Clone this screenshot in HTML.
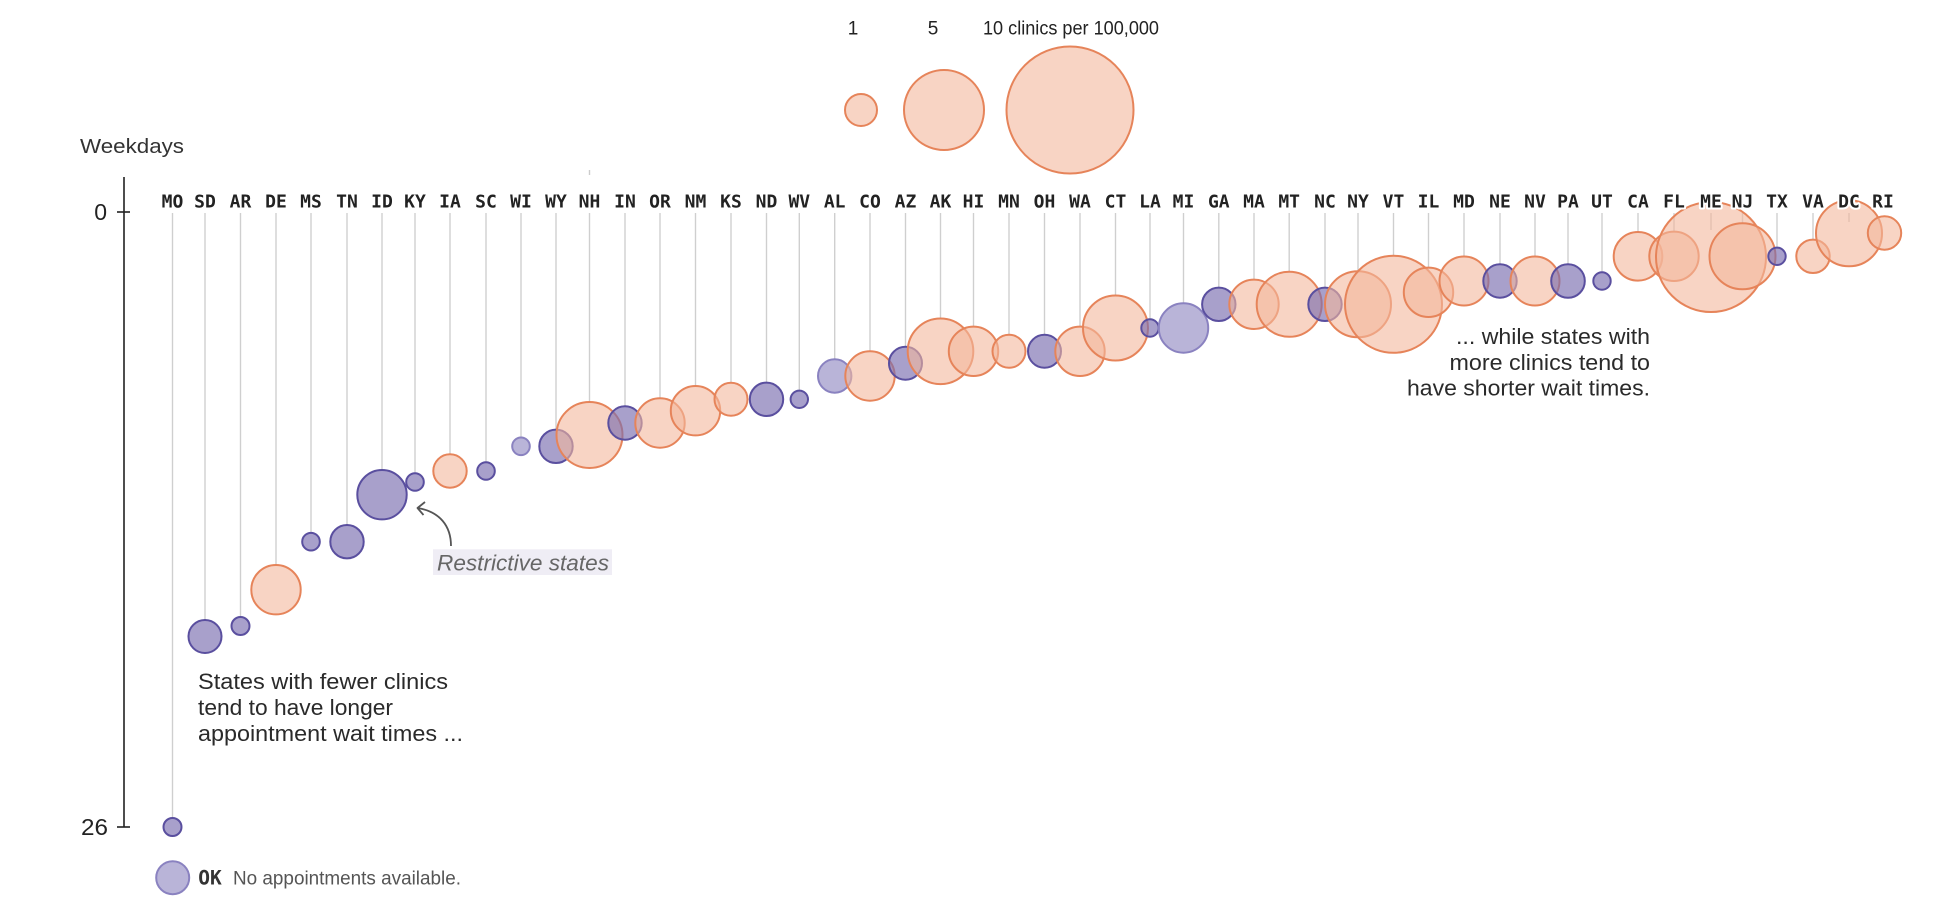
<!DOCTYPE html>
<html>
<head>
<meta charset="utf-8">
<style>
  html,body{margin:0;padding:0;background:#fff;}
  svg{display:block;}
  .o{fill:#F3B89C;fill-opacity:.6;stroke:#E6845A;stroke-width:2;}
  .p{fill:#796DAF;fill-opacity:.65;stroke:#5A4F9F;stroke-width:2;}
  .l{fill:#938CC3;fill-opacity:.65;stroke:#8A82C0;stroke-width:2;}
  .stem{stroke:#cfcfcf;stroke-width:1.4;}
  .lab{font-family:"DejaVu Sans Mono","Liberation Mono",monospace;font-weight:bold;font-size:18px;fill:#222;text-anchor:middle;paint-order:stroke;stroke:#fff;stroke-width:4px;stroke-linejoin:round;}
  .sans{font-family:"Liberation Sans",sans-serif;}
</style>
</head>
<body>
<svg width="1952" height="912" viewBox="0 0 1952 912" xmlns="http://www.w3.org/2000/svg">
  <!-- size legend -->
  <g class="sans" font-size="19" fill="#222">
    <text x="853" y="34.5" text-anchor="middle">1</text>
    <text x="933" y="34.5" text-anchor="middle">5</text>
    <text x="983" y="34.5" textLength="176" lengthAdjust="spacingAndGlyphs">10 clinics per 100,000</text>
  </g>
  <circle class="o" cx="861" cy="110" r="16"/>
  <circle class="o" cx="944" cy="110" r="40"/>
  <circle class="o" cx="1070" cy="110" r="63.5"/>

  <!-- axis -->
  <text class="sans" x="80" y="153" font-size="20.5" fill="#333" textLength="104" lengthAdjust="spacingAndGlyphs">Weekdays</text>
  <line x1="124" y1="177" x2="124" y2="827.5" stroke="#222" stroke-width="1.6"/>
  <line x1="117" y1="212" x2="130" y2="212" stroke="#222" stroke-width="1.6"/>
  <line x1="117" y1="827" x2="130" y2="827" stroke="#222" stroke-width="1.6"/>
  <text class="sans" x="107" y="220" font-size="23" fill="#222" text-anchor="end">0</text>
  <text class="sans" x="108" y="835" font-size="23" fill="#222" text-anchor="end" textLength="27" lengthAdjust="spacingAndGlyphs">26</text>
  <line x1="589.5" y1="170" x2="589.5" y2="175" stroke="#ccc" stroke-width="1.4"/>

  <!-- stems -->
  <g class="stem">
    <line x1="172.5" y1="213" x2="172.5" y2="818"/>
    <line x1="205" y1="213" x2="205" y2="620"/>
    <line x1="240.5" y1="213" x2="240.5" y2="617"/>
    <line x1="276" y1="213" x2="276" y2="565"/>
    <line x1="311" y1="213" x2="311" y2="533"/>
    <line x1="347" y1="213" x2="347" y2="525"/>
    <line x1="382" y1="213" x2="382" y2="470"/>
    <line x1="415" y1="213" x2="415" y2="473"/>
    <line x1="450" y1="213" x2="450" y2="454"/>
    <line x1="486" y1="213" x2="486" y2="462"/>
    <line x1="521" y1="213" x2="521" y2="437.5"/>
    <line x1="556" y1="213" x2="556" y2="429.6"/>
    <line x1="589.5" y1="213" x2="589.5" y2="402"/>
    <line x1="625" y1="213" x2="625" y2="406.3"/>
    <line x1="660" y1="213" x2="660" y2="398.3"/>
    <line x1="695.5" y1="213" x2="695.5" y2="386"/>
    <line x1="731" y1="213" x2="731" y2="382.8"/>
    <line x1="766.5" y1="213" x2="766.5" y2="382.6"/>
    <line x1="799.3" y1="213" x2="799.3" y2="390.6"/>
    <line x1="834.7" y1="213" x2="834.7" y2="359.3"/>
    <line x1="870" y1="213" x2="870" y2="351.3"/>
    <line x1="905.5" y1="213" x2="905.5" y2="346.8"/>
    <line x1="940.5" y1="213" x2="940.5" y2="318.5"/>
    <line x1="973.5" y1="213" x2="973.5" y2="326.6"/>
    <line x1="1009" y1="213" x2="1009" y2="334.8"/>
    <line x1="1044.5" y1="213" x2="1044.5" y2="334.8"/>
    <line x1="1080" y1="213" x2="1080" y2="326.6"/>
    <line x1="1115.5" y1="213" x2="1115.5" y2="295.5"/>
    <line x1="1150" y1="213" x2="1150" y2="319.3"/>
    <line x1="1183.5" y1="213" x2="1183.5" y2="303.3"/>
    <line x1="1218.8" y1="213" x2="1218.8" y2="287.6"/>
    <line x1="1254" y1="213" x2="1254" y2="279.6"/>
    <line x1="1289.2" y1="213" x2="1289.2" y2="271.8"/>
    <line x1="1325" y1="213" x2="1325" y2="287.6"/>
    <line x1="1358" y1="213" x2="1358" y2="271.3"/>
    <line x1="1393.5" y1="213" x2="1393.5" y2="255.8"/>
    <line x1="1428.5" y1="213" x2="1428.5" y2="267.6"/>
    <line x1="1464" y1="213" x2="1464" y2="256.5"/>
    <line x1="1500" y1="213" x2="1500" y2="264.3"/>
    <line x1="1535" y1="213" x2="1535" y2="256.5"/>
    <line x1="1568" y1="213" x2="1568" y2="264.2"/>
    <line x1="1602" y1="213" x2="1602" y2="272.3"/>
    <line x1="1638" y1="213" x2="1638" y2="232"/>
    <line x1="1674" y1="213" x2="1674" y2="231.6"/>
    <line x1="1711" y1="213" x2="1711" y2="230"/>
    <line x1="1742.5" y1="213" x2="1742.5" y2="223.3"/>
    <line x1="1777" y1="213" x2="1777" y2="247.6"/>
    <line x1="1813" y1="213" x2="1813" y2="239.6"/>
    <line x1="1849" y1="213" x2="1849" y2="222"/>
  </g>

  <!-- bubbles -->
  <circle class="p" cx="172.5" cy="827" r="9"/>
  <circle class="p" cx="205" cy="636.5" r="16.5"/>
  <circle class="p" cx="240.5" cy="626" r="9"/>
  <circle class="o" cx="276" cy="589.7" r="24.7"/>
  <circle class="p" cx="311" cy="541.7" r="8.8"/>
  <circle class="p" cx="347" cy="541.7" r="16.7"/>
  <circle class="p" cx="382" cy="494.7" r="24.7"/>
  <circle class="p" cx="415" cy="482" r="8.8"/>
  <circle class="o" cx="450" cy="471" r="16.7"/>
  <circle class="p" cx="486" cy="471" r="8.8"/>
  <circle class="l" cx="521" cy="446.3" r="8.8"/>
  <circle class="p" cx="556" cy="446.3" r="16.7"/>
  <circle class="o" cx="589.5" cy="435" r="33"/>
  <circle class="p" cx="625" cy="423" r="16.7"/>
  <circle class="o" cx="660" cy="423" r="24.7"/>
  <circle class="o" cx="695.5" cy="410.7" r="24.7"/>
  <circle class="o" cx="731" cy="399.3" r="16.5"/>
  <circle class="p" cx="766.5" cy="399.3" r="16.7"/>
  <circle class="p" cx="799.3" cy="399.3" r="8.7"/>
  <circle class="l" cx="834.7" cy="376" r="16.7"/>
  <circle class="o" cx="870" cy="376" r="24.7"/>
  <circle class="p" cx="905.5" cy="363.3" r="16.5"/>
  <circle class="o" cx="940.5" cy="351.3" r="32.8"/>
  <circle class="o" cx="973.5" cy="351.3" r="24.7"/>
  <circle class="o" cx="1009" cy="351.3" r="16.5"/>
  <circle class="p" cx="1044.5" cy="351.3" r="16.5"/>
  <circle class="o" cx="1080" cy="351.3" r="24.7"/>
  <circle class="o" cx="1115.5" cy="328" r="32.5"/>
  <circle class="p" cx="1150" cy="328" r="8.7"/>
  <circle class="l" cx="1183.5" cy="328" r="24.7"/>
  <circle class="p" cx="1218.8" cy="304.3" r="16.7"/>
  <circle class="o" cx="1254" cy="304.3" r="24.7"/>
  <circle class="o" cx="1289.2" cy="304.3" r="32.5"/>
  <circle class="p" cx="1325" cy="304.3" r="16.7"/>
  <circle class="o" cx="1358" cy="304.3" r="33"/>
  <circle class="o" cx="1393.5" cy="304.3" r="48.5"/>
  <circle class="o" cx="1428.5" cy="292.3" r="24.7"/>
  <circle class="o" cx="1464" cy="281" r="24.5"/>
  <circle class="p" cx="1500" cy="281" r="16.7"/>
  <circle class="o" cx="1535" cy="281" r="24.5"/>
  <circle class="p" cx="1568" cy="281" r="16.8"/>
  <circle class="p" cx="1602" cy="281" r="8.7"/>
  <circle class="o" cx="1638" cy="256.3" r="24.3"/>
  <circle class="o" cx="1674" cy="256.3" r="24.7"/>
  <circle class="o" cx="1711" cy="257" r="55"/>
  <circle class="o" cx="1742.5" cy="256.3" r="33"/>
  <circle class="p" cx="1777" cy="256.3" r="8.7"/>
  <circle class="o" cx="1813" cy="256.3" r="16.7"/>
  <circle class="o" cx="1849" cy="233.3" r="33"/>
  <circle class="o" cx="1884.5" cy="233" r="16.7"/>

  <!-- state labels -->
  <g class="lab">
    <text x="172.5" y="207.3">MO</text>
    <text x="205" y="207.3">SD</text>
    <text x="240.5" y="207.3">AR</text>
    <text x="276" y="207.3">DE</text>
    <text x="311" y="207.3">MS</text>
    <text x="347" y="207.3">TN</text>
    <text x="382" y="207.3">ID</text>
    <text x="415" y="207.3">KY</text>
    <text x="450" y="207.3">IA</text>
    <text x="486" y="207.3">SC</text>
    <text x="521" y="207.3">WI</text>
    <text x="556" y="207.3">WY</text>
    <text x="589.5" y="207.3">NH</text>
    <text x="625" y="207.3">IN</text>
    <text x="660" y="207.3">OR</text>
    <text x="695.5" y="207.3">NM</text>
    <text x="731" y="207.3">KS</text>
    <text x="766.5" y="207.3">ND</text>
    <text x="799.3" y="207.3">WV</text>
    <text x="834.7" y="207.3">AL</text>
    <text x="870" y="207.3">CO</text>
    <text x="905.5" y="207.3">AZ</text>
    <text x="940.5" y="207.3">AK</text>
    <text x="973.5" y="207.3">HI</text>
    <text x="1009" y="207.3">MN</text>
    <text x="1044.5" y="207.3">OH</text>
    <text x="1080" y="207.3">WA</text>
    <text x="1115.5" y="207.3">CT</text>
    <text x="1150" y="207.3">LA</text>
    <text x="1183.5" y="207.3">MI</text>
    <text x="1218.8" y="207.3">GA</text>
    <text x="1254" y="207.3">MA</text>
    <text x="1289.2" y="207.3">MT</text>
    <text x="1325" y="207.3">NC</text>
    <text x="1358" y="207.3">NY</text>
    <text x="1393.5" y="207.3">VT</text>
    <text x="1428.5" y="207.3">IL</text>
    <text x="1464" y="207.3">MD</text>
    <text x="1500" y="207.3">NE</text>
    <text x="1535" y="207.3">NV</text>
    <text x="1568" y="207.3">PA</text>
    <text x="1602" y="207.3">UT</text>
    <text x="1638" y="207.3">CA</text>
    <text x="1674" y="207.3">FL</text>
    <text x="1711" y="207.3">ME</text>
    <text x="1742.5" y="207.3">NJ</text>
    <text x="1777" y="207.3">TX</text>
    <text x="1813" y="207.3">VA</text>
    <text x="1849" y="207.3">DC</text>
    <text x="1883" y="207.3">RI</text>
  </g>

  <!-- Restrictive states annotation -->
  <path d="M451,546 C451,526 440,512 418,508" fill="none" stroke="#555" stroke-width="1.8"/>
  <path d="M425,502 L417.5,508 L423.5,515" fill="none" stroke="#555" stroke-width="1.8" stroke-linejoin="round"/>
  <rect x="433" y="549.3" width="179" height="25.7" fill="#EFEDF5"/>
  <text class="sans" x="437" y="570.5" font-size="22" font-style="italic" fill="#666" textLength="172" lengthAdjust="spacingAndGlyphs">Restrictive states</text>

  <!-- left annotation -->
  <g class="sans" font-size="22" fill="#2a2a2a">
    <text x="198" y="689" textLength="250" lengthAdjust="spacingAndGlyphs">States with fewer clinics</text>
    <text x="198" y="715" textLength="195" lengthAdjust="spacingAndGlyphs">tend to have longer</text>
    <text x="198" y="741" textLength="265" lengthAdjust="spacingAndGlyphs">appointment wait times ...</text>
  </g>

  <!-- right annotation -->
  <g class="sans" font-size="22" fill="#2a2a2a">
    <text x="1456" y="344" textLength="194" lengthAdjust="spacingAndGlyphs">... while states with</text>
    <text x="1449.5" y="370" textLength="200.5" lengthAdjust="spacingAndGlyphs">more clinics tend to</text>
    <text x="1407" y="395.7" textLength="243" lengthAdjust="spacingAndGlyphs">have shorter wait times.</text>
  </g>

  <!-- bottom legend -->
  <circle class="l" cx="172.7" cy="877.7" r="16.5"/>
  <text x="198.3" y="884.7" font-family="'DejaVu Sans Mono','Liberation Mono',monospace" font-weight="bold" font-size="19.5" fill="#333" textLength="23.5" lengthAdjust="spacingAndGlyphs">OK</text>
  <text class="sans" x="233" y="884.7" font-size="19" fill="#555" textLength="228" lengthAdjust="spacingAndGlyphs">No appointments available.</text>
</svg>
</body>
</html>
